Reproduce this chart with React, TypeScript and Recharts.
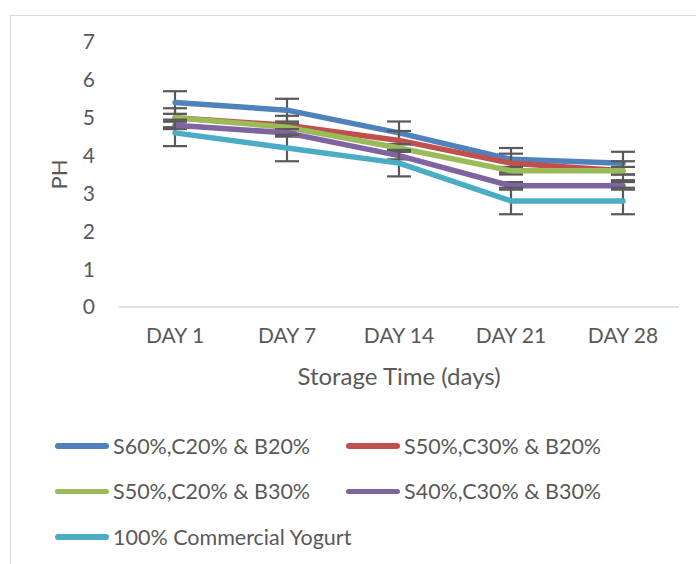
import { LineChart, Line, XAxis, YAxis, ErrorBar } from "recharts";

const days = ["DAY 1", "DAY 7", "DAY 14", "DAY 21", "DAY 28"];
const s60c20b20 = [5.4, 5.2, 4.6, 3.9, 3.8];
const s50c30b20 = [5.0, 4.8, 4.4, 3.8, 3.6];
const s50c20b30 = [5.0, 4.75, 4.2, 3.6, 3.6];
const s40c30b30 = [4.8, 4.6, 4.0, 3.2, 3.2];
const commercial = [4.6, 4.2, 3.8, 2.8, 2.8];
const errors = [0.3, 0.25, 0.1, 0.1, 0.35];
const seriesNames = [
  "S60%,C20% & B20%",
  "S50%,C30% & B20%",
  "S50%,C20% & B30%",
  "S40%,C30% & B30%",
  "100% Commercial Yogurt",
];
const seriesValues = [s60c20b20, s50c30b20, s50c20b30, s40c30b30, commercial];
const colors = ["#4F81BD", "#C0504D", "#9BBB59", "#8064A2", "#4BACC6"];
const yTicks = [0, 1, 2, 3, 4, 5, 6, 7];

const data = days.map((day, i) => {
  const row: Record<string, string | number> = { day };
  seriesValues.forEach((vals, s) => {
    row["s" + s] = vals[i];
    row["e" + s] = errors[s];
  });
  return row;
});

const font = 'Lato, "Open Sans", sans-serif';
const textColor = "#595959";

export default function App() {
  return (
    <div
      style={{
        position: "absolute",
        left: 0,
        top: 0,
        width: 696,
        height: 564,
        overflow: "hidden",
        background: "#fff",
        fontFamily: font,
      }}
    >
      <div
        style={{
          position: "absolute",
          left: 10,
          top: 15,
          width: 720,
          height: 600,
          border: "1.5px solid #d9d9d9",
        }}
      />
      <div style={{ position: "absolute", left: 0, top: 0 }}>
        <LineChart
          width={696}
          height={564}
          data={data}
          margin={{ top: 42, right: 17, bottom: 0, left: 0 }}
        >
          <XAxis
            dataKey="day"
            height={257}
            padding={{ left: 56, right: 56 }}
            tickLine={false}
            axisLine={{ stroke: "#d9d9d9", strokeWidth: 1.5 }}
            tickMargin={15}
            tick={{ fill: textColor, fontSize: 21, fontFamily: font }}
            label={{
              value: "Storage Time (days)",
              position: "insideTop",
              offset: 61,
              fill: textColor,
              fontSize: 24,
              fontFamily: font,
            }}
          />
          <YAxis
            width={119}
            domain={[0, 7]}
            ticks={yTicks}
            axisLine={false}
            tickLine={false}
            tickMargin={18}
            tick={{ fill: textColor, fontSize: 21, fontFamily: font }}
            label={{
              value: "PH",
              angle: -90,
              position: "insideLeft",
              offset: 59,
              fill: textColor,
              fontSize: 22,
              fontFamily: font,
              style: { textAnchor: "middle" },
            }}
          />
          {seriesNames.map((name, s) => (
            <Line
              key={name}
              name={name}
              dataKey={"s" + s}
              stroke={colors[s]}
              strokeWidth={5.5}
              strokeLinecap="round"
              strokeLinejoin="round"
              dot={false}
              activeDot={false}
              isAnimationActive={false}
            >
              <ErrorBar
                dataKey={"e" + s}
                width={12}
                stroke="#595959"
                strokeWidth={2.2}
                isAnimationActive={false}
              />
            </Line>
          ))}
        </LineChart>
      </div>
      <div
        style={{
          position: "absolute",
          left: 55,
          top: 423,
          width: 620,
          display: "flex",
          flexWrap: "wrap",
        }}
      >
        {seriesNames.map((name, s) => (
          <div
            key={name}
            style={{
              width: 291,
              height: 45.5,
              display: "flex",
              alignItems: "center",
              color: textColor,
              fontSize: 21.5,
              whiteSpace: "nowrap",
            }}
          >
            <span
              style={{
                display: "inline-block",
                flex: "none",
                width: 54,
                height: 5.5,
                borderRadius: 3,
                background: colors[s],
                marginRight: 4,
              }}
            />
            <span>{name}</span>
          </div>
        ))}
      </div>
    </div>
  );
}
